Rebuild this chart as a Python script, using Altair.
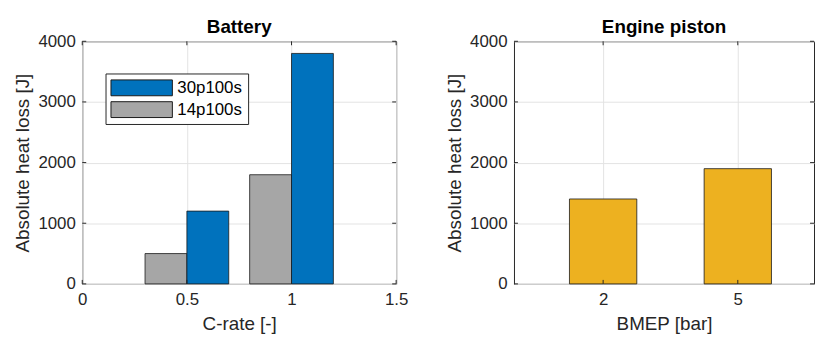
import altair as alt
import pandas as pd

# ---- data ----
crate = [0.5, 1.0]
series_order = ["30p100s", "14p100s"]
series_colors = ["#0072BD", "#A6A6A6"]
vals_30p100s = [1200, 3800]
vals_14p100s = [500, 1800]
bmep = ["2", "5"]
piston_loss = [1400, 1900]
y_ticks = [0, 1000, 2000, 3000, 4000]
x_ticks_bat = [0, 0.5, 1, 1.5]

FONT = "Liberation Sans"
FRAME = "#262626"
LABEL_FS = 17
TITLE_FS = 19
BW = 0.2   # bar width in C-rate units
PW = 0.5   # piston bar width in category units

rows = []
for c, v in zip(crate, vals_14p100s):
    rows.append({"series": "14p100s", "x0": c - BW, "x1": c, "val": v})
for c, v in zip(crate, vals_30p100s):
    rows.append({"series": "30p100s", "x0": c, "x1": c + BW, "val": v})
bat = pd.DataFrame(rows)

pis = pd.DataFrame({"bmep": bmep, "idx": list(range(1, len(bmep) + 1)), "val": piston_loss})
pis["x0"] = pis["idx"] - PW / 2
pis["x1"] = pis["idx"] + PW / 2

H = 245
W1 = 317
W2 = 303

ydom = [0, 4000]
xdom1 = [0, 1.5]
xdom2 = [0.338, 0.338 + W2 / 136]


def inner_ticks(xvals, xdom, W):
    tl = 4
    xt = pd.DataFrame({"v": xvals})
    yt = pd.DataFrame({"v": y_ticks})
    xs = alt.Scale(domain=xdom, nice=False)
    ys = alt.Scale(domain=ydom, nice=False)
    bottom = alt.Chart(xt).mark_rule(color=FRAME, strokeWidth=1).encode(
        x=alt.X("v:Q", scale=xs), y=alt.value(H), y2=alt.value(H - tl))
    top = alt.Chart(xt).mark_rule(color=FRAME, strokeWidth=1).encode(
        x=alt.X("v:Q", scale=xs), y=alt.value(0), y2=alt.value(tl))
    left = alt.Chart(yt).mark_rule(color=FRAME, strokeWidth=1).encode(
        y=alt.Y("v:Q", scale=ys), x=alt.value(0), x2=alt.value(tl))
    right = alt.Chart(yt).mark_rule(color=FRAME, strokeWidth=1).encode(
        y=alt.Y("v:Q", scale=ys), x=alt.value(W - tl), x2=alt.value(W))
    return [bottom, top, left, right]


def yaxis():
    return alt.Axis(values=y_ticks, format="d", title="Absolute heat loss [J]", grid=True,
                    labelPadding=7, titlePadding=5, labelFlush=False)


def xaxis(**kw):
    return alt.Axis(labelPadding=8, titlePadding=7, labelFlush=False, **kw)


bars1 = alt.Chart(bat).mark_bar(stroke="#1a1a1a", strokeWidth=0.8, opacity=1).encode(
    x=alt.X("x0:Q", scale=alt.Scale(domain=xdom1, nice=False),
            axis=xaxis(values=x_ticks_bat, format="~g", title="C-rate [-]")),
    x2="x1:Q",
    y=alt.Y("val:Q", scale=alt.Scale(domain=ydom, nice=False), axis=yaxis()),
    y2=alt.datum(0),
    color=alt.Color("series:N",
                    scale=alt.Scale(domain=series_order, range=series_colors),
                    legend=None),
)

# manual legend box (inside plot, upper left)
leg_layers = [
    alt.Chart(pd.DataFrame({"k": [0]})).mark_rect(fill="white", stroke=FRAME, strokeWidth=1).encode(
        x=alt.value(24), x2=alt.value(168), y=alt.value(33), y2=alt.value(84))
]
for i, (name, col) in enumerate(zip(series_order, series_colors)):
    y0 = 39 + 22 * i
    d = pd.DataFrame({"series": [name]})
    leg_layers.append(
        alt.Chart(d).mark_rect(fill=col, stroke="#1a1a1a", strokeWidth=1).encode(
            x=alt.value(29), x2=alt.value(91), y=alt.value(y0), y2=alt.value(y0 + 16)))
    leg_layers.append(
        alt.Chart(d).mark_text(align="left", baseline="middle", font=FONT, fontSize=LABEL_FS,
                               color="#000000").encode(
            x=alt.value(96), y=alt.value(y0 + 8.5), text="series:N"))

title_kw = dict(fontSize=TITLE_FS, fontWeight="bold", font=FONT, color="#000000", offset=-5)

left_chart = alt.layer(bars1, *inner_ticks(x_ticks_bat, xdom1, W1), *leg_layers).properties(
    width=W1, height=H, title=alt.TitleParams("Battery", **title_kw))

label_expr = " : ".join(f"datum.value == {i} ? '{b}'" for i, b in zip(pis["idx"], bmep)) + " : ''"

bars2 = alt.Chart(pis).mark_bar(stroke="#1a1a1a", strokeWidth=0.8, color="#EDB120", opacity=1).encode(
    x=alt.X("x0:Q", scale=alt.Scale(domain=xdom2, nice=False),
            axis=xaxis(values=list(pis["idx"]), labelExpr=label_expr, title="BMEP [bar]")),
    x2="x1:Q",
    y=alt.Y("val:Q", scale=alt.Scale(domain=ydom, nice=False), axis=yaxis()),
    y2=alt.datum(0),
)

right_chart = alt.layer(bars2, *inner_ticks(list(pis["idx"]), xdom2, W2)).properties(
    width=W2, height=H, title=alt.TitleParams("Engine piston", **title_kw))

chart = alt.hconcat(left_chart, right_chart, spacing=36).properties(
    padding={"left": 5, "top": 8, "right": 0, "bottom": 0}
).configure_view(
    stroke=FRAME, strokeWidth=1
).configure_axis(
    labelFont=FONT, labelFontSize=LABEL_FS, labelColor=FRAME,
    titleFont=FONT, titleFontSize=TITLE_FS, titleFontWeight="normal", titleColor=FRAME,
    gridColor="#E3E3E3", gridWidth=1, tickSize=0, domain=False,
).configure_title(anchor="middle")

chart.save("out.html", embed_options={"renderer": "svg", "actions": False})
